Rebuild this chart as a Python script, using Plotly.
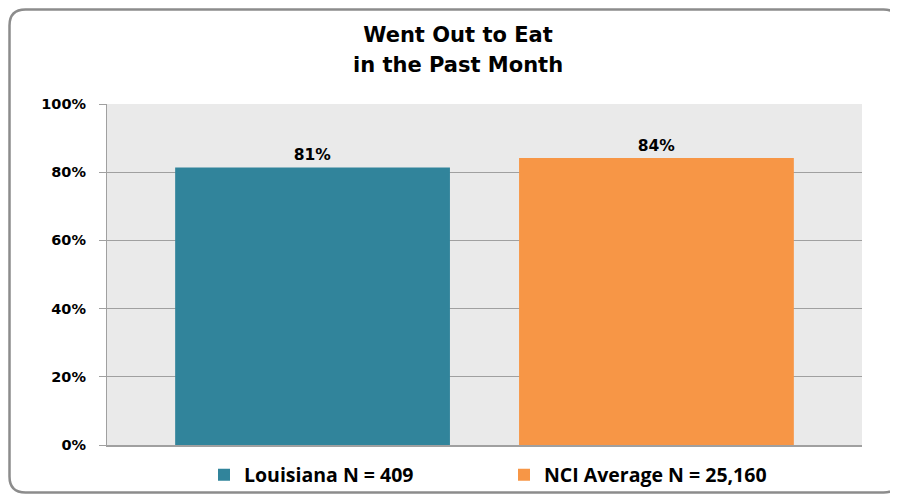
import plotly.graph_objects as go

categories = ["Went Out to Eat"]
series_names = ["Louisiana N = 409", "NCI Average N = 25,160"]
series_values = [[81.4], [84.2]]
series_colors = ["#31849B", "#F79646"]
y_ticks = [0, 20, 40, 60, 80, 100]
y_tick_labels = ["0%", "20%", "40%", "60%", "80%", "100%"]
title_lines = ["Went Out to Eat", "in the Past Month"]

# page offset (browser body margin); keep figure inside viewport (no scrollbars)
OFF = 8
W, H = 898 - OFF, 502 - 2 * OFF
PL, PR, PT, PB = 107, 862, 104, 445   # plot area in page pixels
L, T = PL - OFF, PT - OFF
R, B = (OFF + W) - PR, (OFF + H) - PB
pw, ph = PR - PL, PB - PT

def px(x):
    return (x - PL) / pw

def py(y):
    return (PB - y) / ph

fig = go.Figure()
for name, vals, col in zip(series_names, series_values, series_colors):
    fig.add_trace(go.Bar(
        x=categories, y=vals, name=name,
        marker=dict(color=col, line=dict(width=0)),
        texttemplate="%{y:.0f}%", textposition="outside",
        textfont=dict(family="DejaVu Sans", size=15.5, color="#000000", weight="bold"),
        cliponaxis=False,
    ))

# rounded border (page pixel coords)
x0, x1, y0, y1, r = 9.5, 899.5, 9.5, 492.5, 16
path = (f"M {px(x0 + r)},{py(y0)} L {px(x1 - r)},{py(y0)} "
        f"Q {px(x1)},{py(y0)} {px(x1)},{py(y0 + r)} "
        f"L {px(x1)},{py(y1 - r)} Q {px(x1)},{py(y1)} {px(x1 - r)},{py(y1)} "
        f"L {px(x0 + r)},{py(y1)} Q {px(x0)},{py(y1)} {px(x0)},{py(y1 - r)} "
        f"L {px(x0)},{py(y0 + r)} Q {px(x0)},{py(y0)} {px(x0 + r)},{py(y0)} Z")

title_font = dict(family="DejaVu Sans", size=21, color="#000000", weight="bold")

fig.update_layout(
    width=W, height=H,
    margin=dict(l=L, r=R, t=T, b=B, pad=0, autoexpand=False),
    paper_bgcolor="#FFFFFF",
    plot_bgcolor="#EAEAEA",
    barmode="group",
    bargap=0.089,
    bargroupgap=0.201,
    title=dict(
        text=title_lines[0],
        x=(458 - OFF) / W, xanchor="center", y=1 - (35 - OFF) / H, yanchor="middle",
        font=title_font,
    ),
    annotations=[dict(
        text=title_lines[1], xref="paper", yref="paper",
        x=px(458), y=py(65), xanchor="center", yanchor="middle",
        showarrow=False, font=title_font,
    )],
    showlegend=True,
    legend=dict(
        orientation="h", x=px(504), xanchor="center", y=py(475), yanchor="middle",
        font=dict(family="Open Sans", size=19.5, color="#000000", weight="bold"),
        entrywidth=255, entrywidthmode="pixels",
        itemwidth=30, traceorder="normal",
        bgcolor="rgba(0,0,0,0)",
    ),
    xaxis=dict(showticklabels=False, showline=True, linecolor="#A0A0A0", linewidth=1.5,
               ticks="", showgrid=False, zeroline=False),
    yaxis=dict(range=[0, 100], tickvals=y_ticks, ticktext=y_tick_labels,
               showgrid=True, gridcolor="#A0A0A0", gridwidth=1.2,
               showline=True, linecolor="#A0A0A0", linewidth=1.2,
               ticks="outside", ticklen=7, tickcolor="#A0A0A0", tickwidth=1.2,
               ticklabelstandoff=10,
               zeroline=False,
               tickfont=dict(family="DejaVu Sans", size=14.5, color="#000000", weight="bold")),
    shapes=[dict(type="path", path=path, xref="paper", yref="paper",
                 line=dict(color="#8C8C8C", width=2.5), fillcolor="rgba(0,0,0,0)",
                 layer="above")],
)

fig.write_html("out.html")
